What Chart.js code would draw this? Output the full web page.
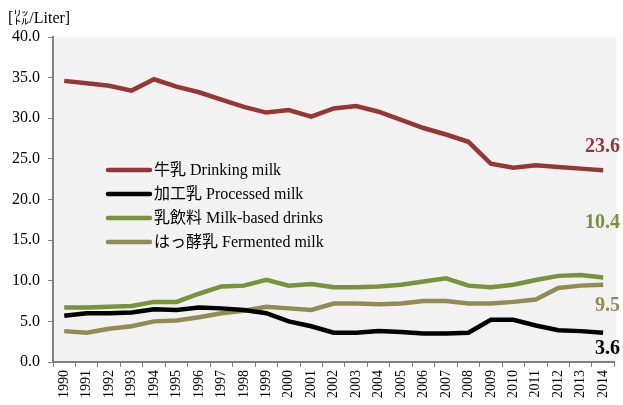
<!DOCTYPE html>
<html>
<head>
<meta charset="utf-8">
<script src="https://cdn.jsdelivr.net/npm/chart.js@4.4.1/dist/chart.umd.min.js"></script>
<style>
  html, body { margin: 0; padding: 0; background: #fff; }
  #wrap { position: relative; width: 623px; height: 405px; }
  #unit { position: absolute; left: 8px; top: 4px; font: 16px "Liberation Serif", "Noto Sans CJK JP", serif; color: #000; }
</style>
</head>
<body>
<div id="wrap">
  <div id="unit">[㍑/Liter]</div>
  <canvas id="c" width="623" height="405"></canvas>
</div>
<script>
const years = ['1990','1991','1992','1993','1994','1995','1996','1997','1998','1999','2000','2001','2002','2003','2004','2005','2006','2007','2008','2009','2010','2011','2012','2013','2014'];
const drinkingMilk = [34.6,34.3,34.0,33.4,34.8,33.9,33.2,32.3,31.4,30.7,31.0,30.2,31.2,31.5,30.8,29.8,28.8,28.0,27.1,24.4,23.9,24.2,24.0,23.8,23.6];
const processedMilk = [5.7,6.0,6.0,6.1,6.5,6.4,6.7,6.6,6.4,6.0,5.0,4.4,3.6,3.6,3.8,3.7,3.5,3.5,3.6,5.2,5.2,4.5,3.9,3.8,3.6];
const milkDrinks = [6.7,6.7,6.8,6.9,7.4,7.4,8.4,9.3,9.4,10.1,9.4,9.6,9.2,9.2,9.3,9.5,9.9,10.3,9.4,9.2,9.5,10.1,10.6,10.7,10.4];
const fermentedMilk = [3.8,3.6,4.1,4.4,5.0,5.1,5.5,6.0,6.3,6.8,6.6,6.4,7.2,7.2,7.1,7.2,7.5,7.5,7.2,7.2,7.4,7.7,9.1,9.4,9.5];
const seriesNames = ['牛乳 Drinking milk','加工乳 Processed milk','乳飲料 Milk-based drinks','はっ酵乳 Fermented milk'];
const seriesColors = ['#953735','#000000','#77933c','#948a54'];
const endLabels = ['23.6','3.6','10.4','9.5'];
const endOffsets = [-23, 16, -55, 21];

const serif = '"Liberation Serif", "Noto Sans CJK JP", serif';

const plotBg = {
  id: 'plotBg',
  beforeDraw(chart) {
    const { ctx, chartArea: a } = chart;
    ctx.save();
    ctx.fillStyle = '#f2f2f2';
    ctx.fillRect(a.left, a.top, a.right - a.left + 2, a.bottom - a.top);
    ctx.restore();
  }
};

const extras = {
  id: 'extras',
  afterDatasetsDraw(chart) {
    const { ctx } = chart;
    ctx.save();
    // legend
    chart.data.datasets.forEach((ds, i) => {
      const y = 170 + i * 24;
      ctx.strokeStyle = ds.borderColor;
      ctx.lineWidth = 4.5;
      ctx.lineCap = 'round';
      ctx.beginPath();
      ctx.moveTo(108, y);
      ctx.lineTo(150, y);
      ctx.stroke();
      ctx.fillStyle = '#000';
      ctx.font = '16px ' + serif;
      ctx.textBaseline = 'middle';
      ctx.textAlign = 'left';
      ctx.fillText(ds.label, 154, y + 1);
    });
    // end value labels
    chart.data.datasets.forEach((ds, i) => {
      const pt = chart.getDatasetMeta(i).data[ds.data.length - 1];
      ctx.fillStyle = ds.borderColor;
      ctx.font = 'bold 20px ' + serif;
      ctx.textAlign = 'right';
      ctx.textBaseline = 'middle';
      ctx.fillText(endLabels[i], 620, pt.y + endOffsets[i]);
    });
    ctx.restore();
  }
};

const values = [drinkingMilk, processedMilk, milkDrinks, fermentedMilk];

new Chart(document.getElementById('c'), {
  type: 'line',
  data: {
    labels: years,
    datasets: values.map((v, i) => ({
      label: seriesNames[i],
      data: v,
      borderColor: seriesColors[i],
      backgroundColor: seriesColors[i],
      borderWidth: 4.5,
      pointRadius: 0,
      tension: 0,
      fill: false
    }))
  },
  options: {
    responsive: false,
    animation: false,
    layout: { padding: { top: 37, right: 2, left: 0, bottom: 0 } },
    plugins: { legend: { display: false }, tooltip: { enabled: false } },
    scales: {
      x: {
        offset: true,
        grid: { drawOnChartArea: false, drawTicks: true, tickLength: 5, color: '#808080', offset: true },
        border: { color: '#808080', width: 2 },
        ticks: { color: '#000', font: { family: serif, size: 14 }, maxRotation: 90, minRotation: 90, autoSkip: false, padding: 3 },
        afterFit: s => { s.height = 43; }
      },
      y: {
        min: 0, max: 40,
        grid: { drawOnChartArea: false, drawTicks: true, tickLength: 5, color: '#808080' },
        border: { color: '#808080', width: 2 },
        ticks: { stepSize: 5, color: '#000', font: { family: serif, size: 16 }, padding: 8, callback: v => v.toFixed(1) },
        afterFit: s => { s.width = 53; }
      }
    }
  },
  plugins: [plotBg, extras]
});
</script>
</body>
</html>
